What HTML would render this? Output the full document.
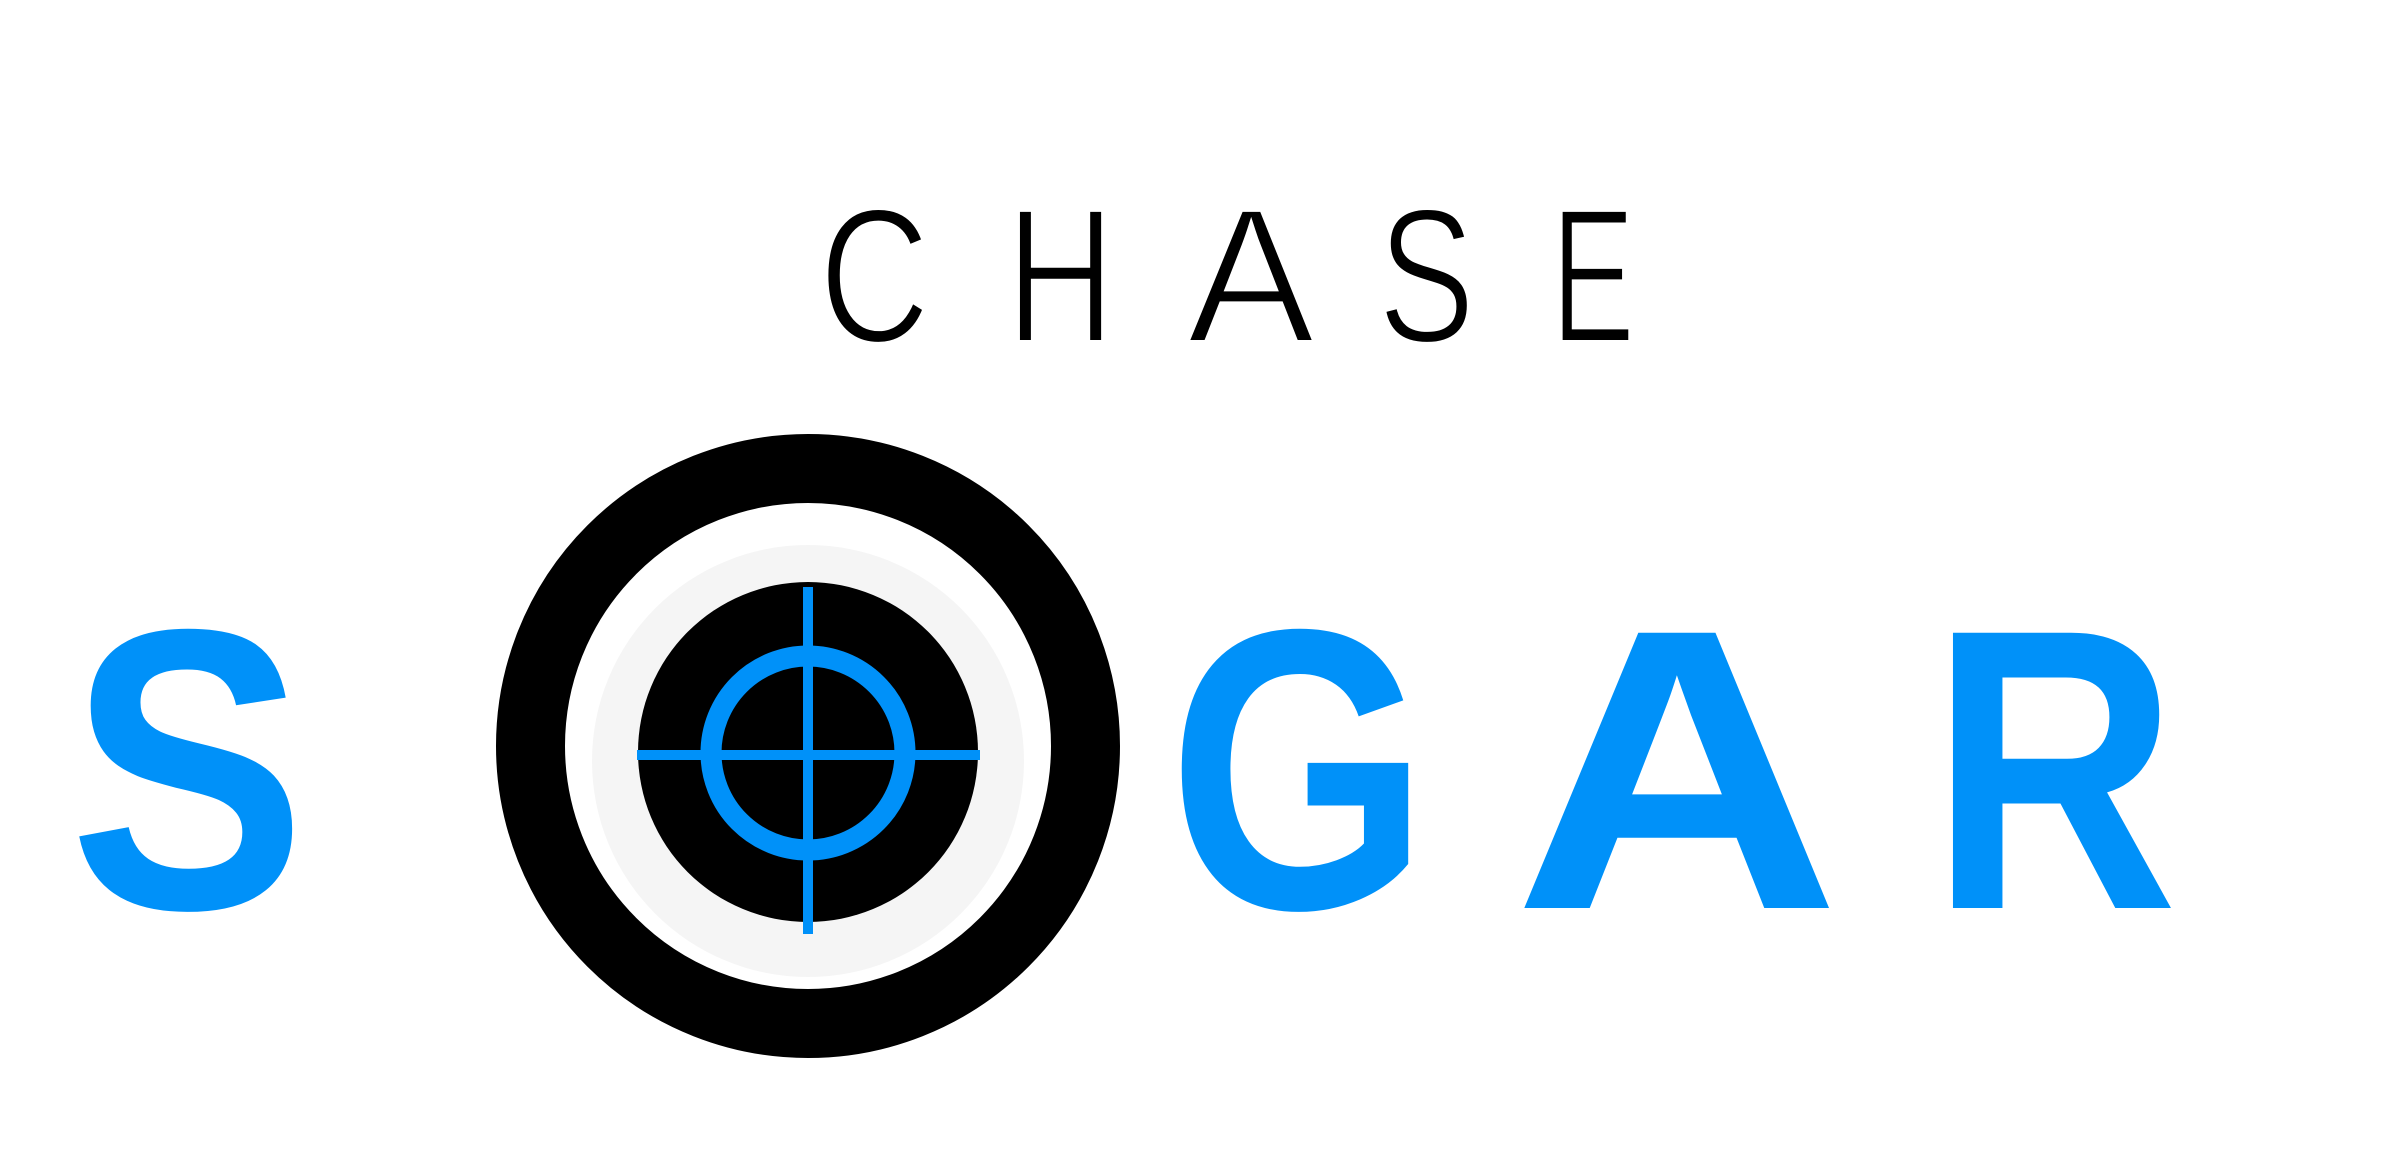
<!DOCTYPE html>
<html><head><meta charset="utf-8"><style>
html,body{margin:0;padding:0;background:#fff;}
svg{display:block;}
</style></head><body>
<svg width="2400" height="1176" viewBox="0 0 2400 1176">
<rect x="0" y="0" width="2400" height="1176" fill="#fff"/>
<g font-family="'Liberation Sans', sans-serif" font-size="192" fill="#000" stroke="#fff" stroke-width="4">
<text x="819" y="342" textLength="111" lengthAdjust="spacingAndGlyphs">C</text>
<text x="1006" y="342" textLength="109" lengthAdjust="spacingAndGlyphs">H</text>
<text x="1187" y="342" textLength="128" lengthAdjust="spacingAndGlyphs">A</text>
<text x="1378" y="342" textLength="97" lengthAdjust="spacingAndGlyphs">S</text>
<text x="1551" y="342" textLength="84" lengthAdjust="spacingAndGlyphs">E</text>
</g>
<g>
<circle cx="808" cy="746" r="277.5" fill="none" stroke="#000" stroke-width="69"/>
<circle cx="808" cy="761" r="216" fill="#f5f5f5"/>
<circle cx="808" cy="752" r="170" fill="#000"/>
<circle cx="808" cy="753" r="97" fill="none" stroke="#0091f9" stroke-width="21"/>
<rect x="803" y="587" width="10" height="347" fill="#0091f9"/>
<rect x="637" y="750" width="343" height="10" fill="#0091f9"/>
</g>
<g font-family="'Liberation Sans', sans-serif" font-weight="bold" font-size="400" fill="#0091f9">
<text x="69" y="908" textLength="237" lengthAdjust="spacingAndGlyphs">S</text>
<text x="1168" y="908" textLength="261" lengthAdjust="spacingAndGlyphs">G</text>
<text x="1513" y="908" textLength="328" lengthAdjust="spacingAndGlyphs">A</text>
<text x="1930" y="908" textLength="248" lengthAdjust="spacingAndGlyphs">R</text>
</g>
</svg>
</body></html>
